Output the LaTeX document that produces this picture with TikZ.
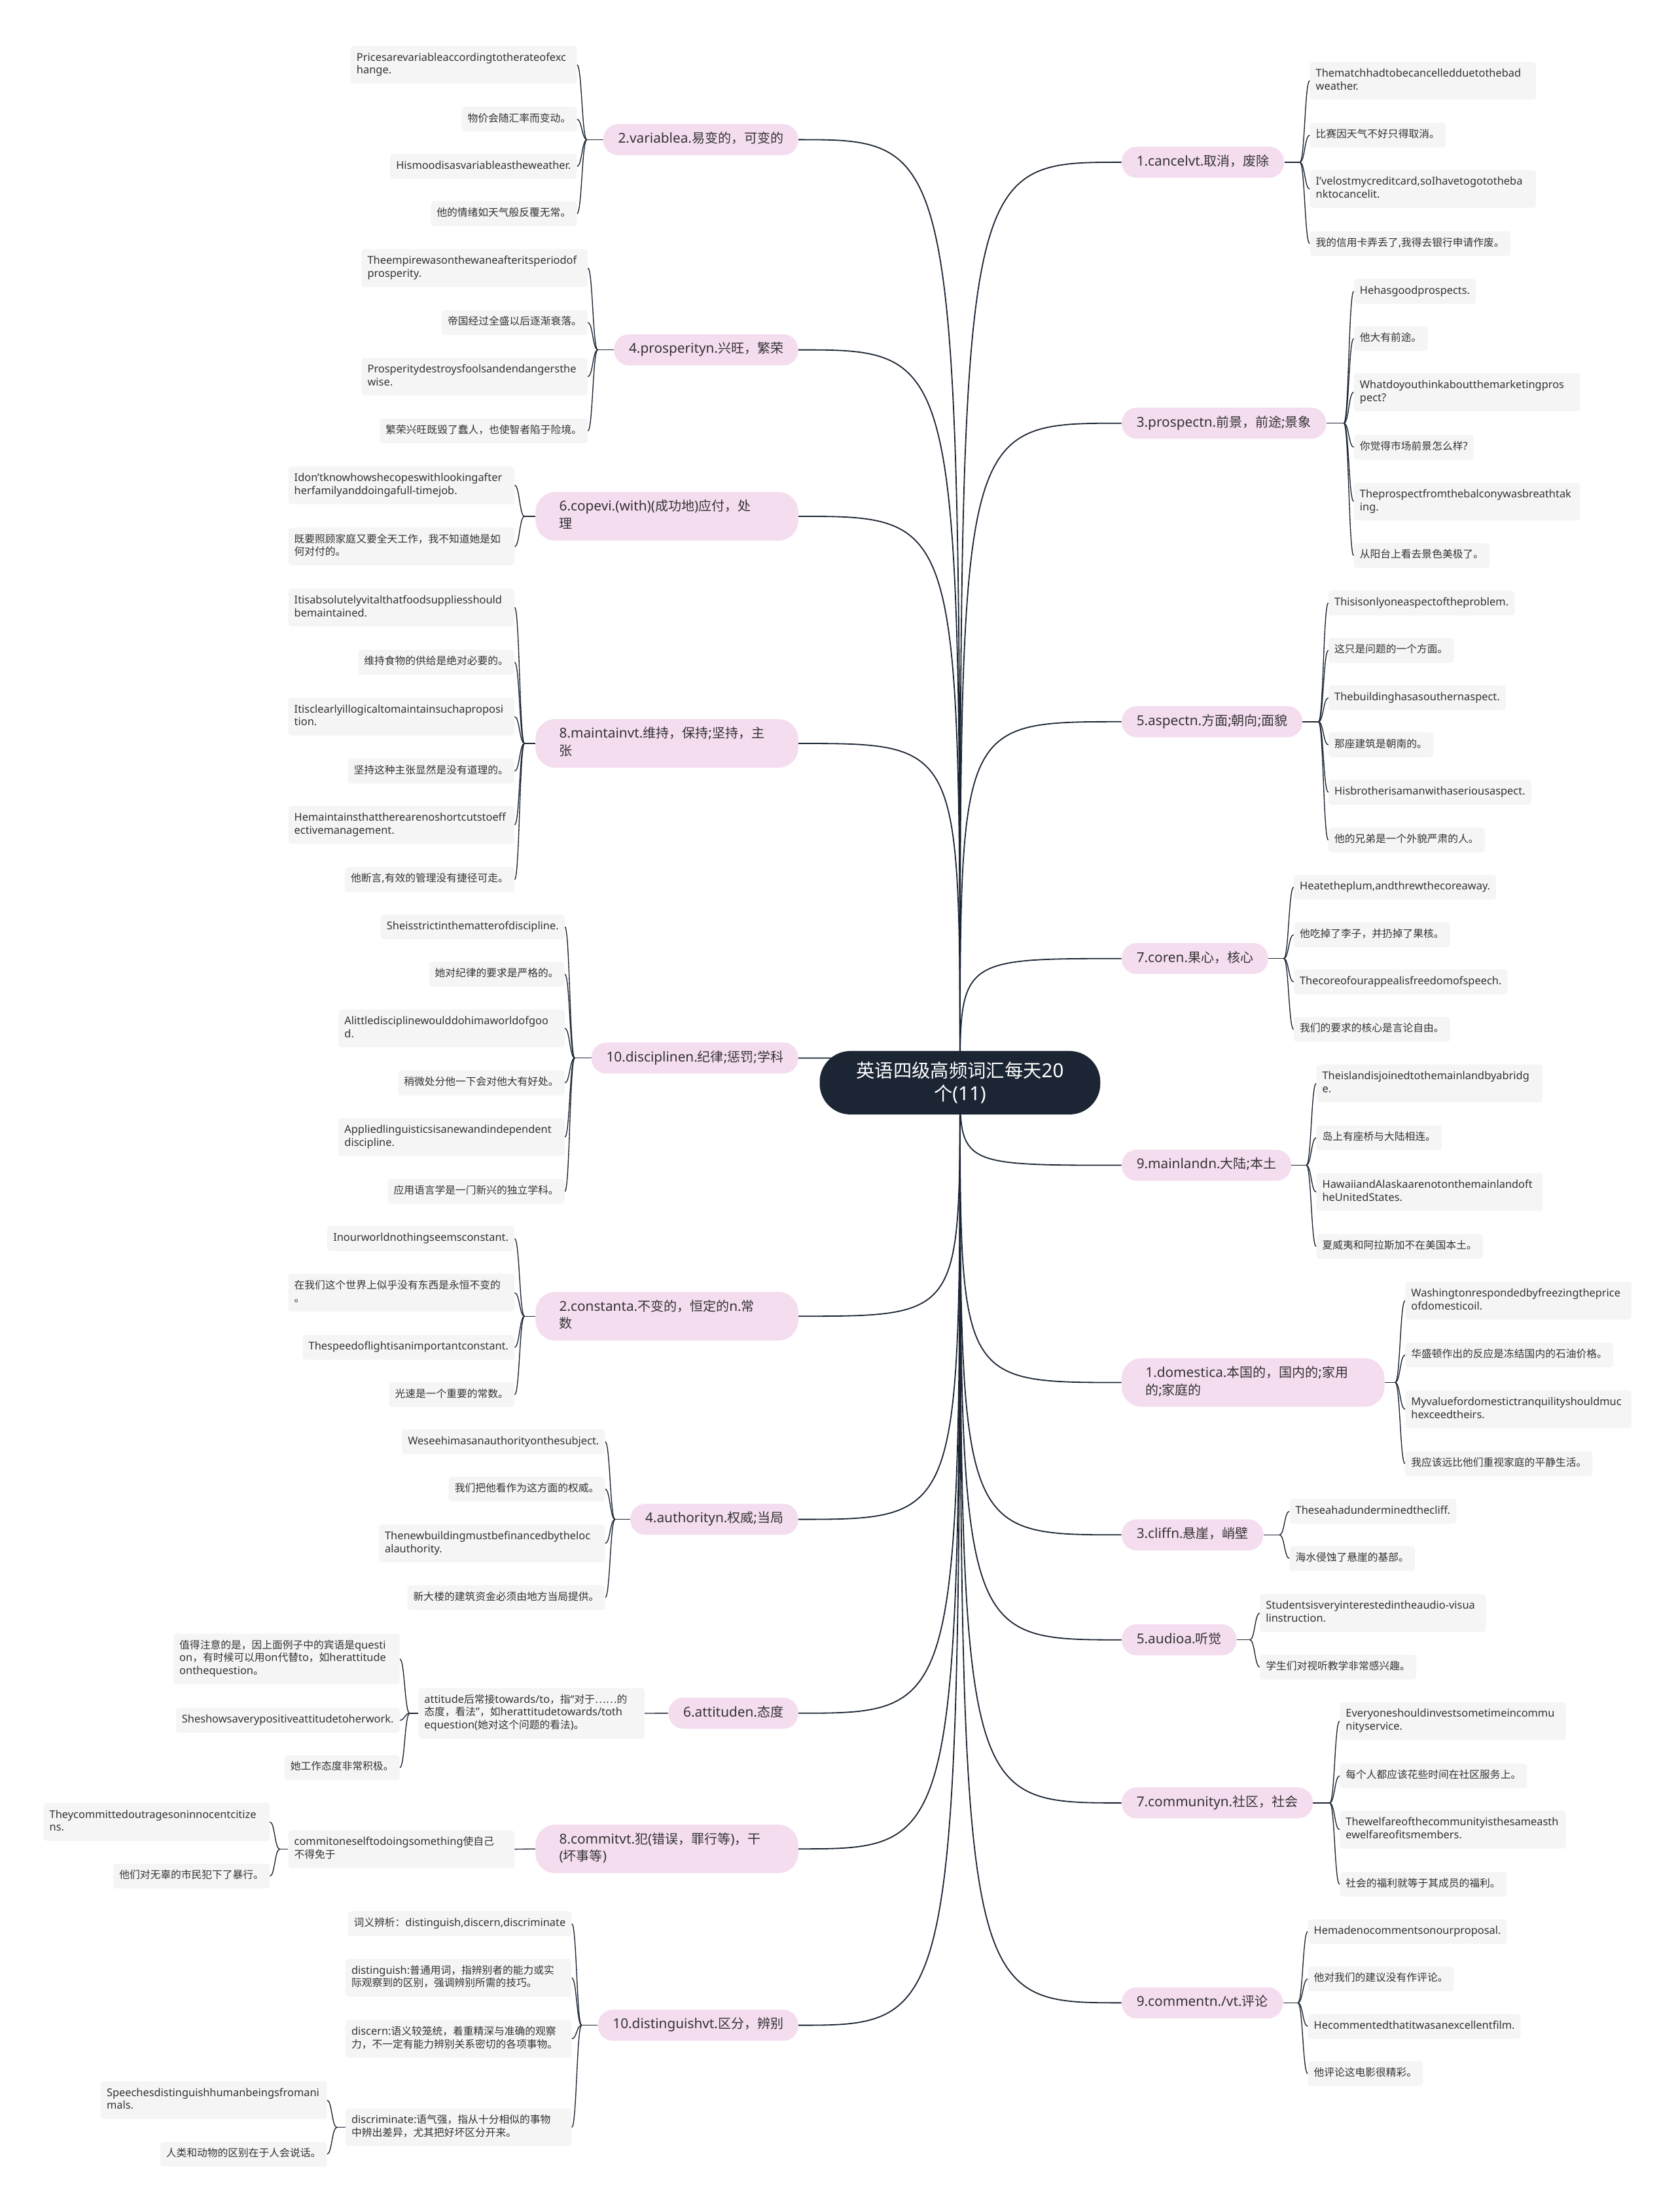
\documentclass[tikz,border=0pt]{standalone}
\usepackage{fontspec}
\setmainfont{Noto Sans}[Scale=1.04]
\newfontfamily\cjkfont{Noto Sans CJK SC}
\usetikzlibrary{calc,backgrounds}
% automatic switch to the CJK font for CJK characters
\XeTeXinterchartokenstate=1
\newXeTeXintercharclass\CJKcls
\newcount\mycnt
\def\setclsrange#1#2#3{\mycnt=#1\relax\loop\XeTeXcharclass\mycnt=#3\relax\ifnum\mycnt<#2\relax\advance\mycnt by 1\relax\repeat}
\setclsrange{"0021}{"024F}{0}
\setclsrange{"2000}{"206F}{0}
\setclsrange{"3000}{"303F}{\CJKcls}
\setclsrange{"4E00}{"9FFF}{\CJKcls}
\setclsrange{"FF00}{"FFEF}{\CJKcls}
\XeTeXcharclass"2026=\CJKcls
\XeTeXinterchartoks 0 \CJKcls = {\cjkfont}
\XeTeXinterchartoks 4095 \CJKcls = {\cjkfont}
\XeTeXinterchartoks \CJKcls 0 = {\normalfont}
\XeTeXinterchartoks \CJKcls 4095 = {\normalfont}
\hyphenpenalty=10000
\exhyphenpenalty=10000
\definecolor{navy}{RGB}{27,37,51}
\definecolor{pinkfill}{RGB}{245,221,240}
\definecolor{leafgray}{RGB}{245,245,245}
\definecolor{txt}{RGB}{51,51,51}
\tikzset{
  leaf/.style={fill=leafgray, rounded corners=3pt, inner xsep=6pt, inner ysep=6pt,
    font=\fontsize{10.4pt}{13pt}\selectfont, text=txt,
    execute at begin node=\strut, execute at end node=\strut},
  leafw/.style={leaf, text width=216pt, align=left},
  branch/.style={fill=pinkfill, rounded corners=15pt, inner xsep=15pt, inner ysep=6.8pt,
    font=\fontsize{13.2pt}{17.7pt}\selectfont, text=txt,
    execute at begin node=\strut, execute at end node=\strut},
  branchw/.style={branch, rounded corners=20pt, inner xsep=24pt, text width=217pt, align=left},
  rootbox/.style={fill=navy, rounded corners=31pt, minimum width=283pt, minimum height=64pt,
    inner ysep=8pt, align=center, text=white,
    font=\fontsize{18.7pt}{23.6pt}\selectfont},
  mainline/.style={draw=navy, line width=1.2pt},
  leafline/.style={draw=navy, line width=0.9pt},
}
\newcommand\leafR[5][leaf]{\node[#1,anchor=west] (#2) at (#3,#4) {#5};}
\newcommand\leafL[5][leaf]{\node[#1,anchor=east] (#2) at (#3,#4) {#5};}
\newcommand\brR[4][branch]{\node[#1,anchor=west] (#2) at (795,#3) {#4};}
\newcommand\brL[4][branch]{\node[#1,anchor=east] (#2) at (566,#3) {#4};}
\newcommand\mainR[1]{\draw[mainline] (root.center) .. controls (root.center |- #1.west) .. (#1.west);}
\newcommand\mainL[1]{\draw[mainline] (root.center) .. controls (root.center |- #1.east) .. (#1.east);}
\newcommand\conR[4]{\coordinate (#1J) at (#2,#3);
  \draw[leafline] (#1.east) -- (#1J);
  \foreach \ch in {#4}{\draw[leafline] (#1J) .. controls +(3.5,0) and +(-3.5,0) .. (\ch.west);}}
\newcommand\conL[4]{\coordinate (#1J) at (#2,#3);
  \draw[leafline] (#1.west) -- (#1J);
  \foreach \ch in {#4}{\draw[leafline] (#1J) .. controls +(-3.5,0) and +(3.5,0) .. (\ch.east);}}
\begin{document}
\begin{tikzpicture}[x=0.05cm,y=-0.05cm]
\useasboundingbox (0,0) rectangle (1188,1568);
% root
\node[rootbox] (root) at (680.5,767.5) {英语四级高频词汇每天20\\个(11)};
% ---------------- right side ----------------
\brR{rA}{115}{1.cancelvt.取消，废除}
\leafR[leafw]{rA1}{928.4}{57.2}{Thematchhadtobecancelledduetothebad\\weather.}
\leafR{rA2}{928.4}{95.8}{比赛因天气不好只得取消。}
\leafR[leafw]{rA3}{928.4}{134}{I’velostmycreditcard,soIhavetogototheba\\nktocancelit.}
\leafR{rA4}{928.4}{172.7}{我的信用卡弄丢了,我得去银行申请作废。}
\brR{rB}{300}{3.prospectn.前景，前途;景象}
\leafR{rB1}{959.6}{206.5}{Hehasgoodprospects.}
\leafR{rB2}{959.6}{240}{他大有前途。}
\leafR[leafw]{rB3}{959.6}{278}{Whatdoyouthinkaboutthemarketingpros\\pect?}
\leafR{rB4}{959.6}{317}{你觉得市场前景怎么样?}
\leafR[leafw]{rB5}{959.6}{355.5}{Theprospectfromthebalconywasbreathtak\\ing.}
\leafR{rB6}{959.6}{393.8}{从阳台上看去景色美极了。}
\brR{rC}{511.6}{5.aspectn.方面;朝向;面貌}
\leafR{rC1}{941.6}{427.5}{Thisisonlyoneaspectoftheproblem.}
\leafR{rC2}{941.6}{461}{这只是问题的一个方面。}
\leafR{rC3}{941.6}{494.7}{Thebuildinghasasouthernaspect.}
\leafR{rC4}{941.6}{528}{那座建筑是朝南的。}
\leafR{rC5}{941.6}{561.6}{Hisbrotherisamanwithaseriousaspect.}
\leafR{rC6}{941.6}{595.4}{他的兄弟是一个外貌严肃的人。}
\brR{rD}{679.5}{7.coren.果心，核心}
\leafR{rD1}{917}{628.9}{Heatetheplum,andthrewthecoreaway.}
\leafR{rD2}{917}{662.6}{他吃掉了李子，并扔掉了果核。}
\leafR{rD3}{917}{696}{Thecoreofourappealisfreedomofspeech.}
\leafR{rD4}{917}{729.7}{我们的要求的核心是言论自由。}
\brR{rE}{826}{9.mainlandn.大陆;本土}
\leafR[leafw]{rE1}{933}{768}{Theislandisjoinedtothemainlandbyabridg\\e.}
\leafR{rE2}{933}{806.5}{岛上有座桥与大陆相连。}
\leafR[leafw]{rE3}{933}{845}{HawaiiandAlaskaarenotonthemainlandoft\\heUnitedStates.}
\leafR{rE4}{933}{883.6}{夏威夷和阿拉斯加不在美国本土。}
\brR[branchw]{rF}{980}{1.domestica.本国的，国内的;家用\\的;家庭的}
\leafR[leafw]{rF1}{996}{922}{Washingtonrespondedbyfreezingtheprice\\ofdomesticoil.}
\leafR{rF2}{996}{960.5}{华盛顿作出的反应是冻结国内的石油价格。}
\leafR[leafw]{rF3}{996}{999}{Myvaluefordomestictranquilityshouldmuc\\hexceedtheirs.}
\leafR{rF4}{996}{1037.6}{我应该远比他们重视家庭的平静生活。}
\brR{rG}{1088}{3.cliffn.悬崖，峭壁}
\leafR{rG1}{914}{1071.3}{Theseahadunderminedthecliff.}
\leafR{rG2}{914}{1104.7}{海水侵蚀了悬崖的基部。}
\brR{rH}{1162.4}{5.audioa.听觉}
\leafR[leafw]{rH1}{893}{1143.4}{Studentsisveryinterestedintheaudio-visua\\linstruction.}
\leafR{rH2}{893}{1181.7}{学生们对视听教学非常感兴趣。}
\brR{rI}{1278}{7.communityn.社区，社会}
\leafR[leafw]{rI1}{949.6}{1220}{Everyoneshouldinvestsometimeincommu\\nityservice.}
\leafR{rI2}{949.6}{1258.8}{每个人都应该花些时间在社区服务上。}
\leafR[leafw]{rI3}{949.6}{1297}{Thewelfareofthecommunityisthesameasth\\ewelfareofitsmembers.}
\leafR{rI4}{949.6}{1335.7}{社会的福利就等于其成员的福利。}
\brR{rJ}{1419.7}{9.commentn./vt.评论}
\leafR{rJ1}{927}{1369.2}{Hemadenocommentsonourproposal.}
\leafR{rJ2}{927}{1402.8}{他对我们的建议没有作评论。}
\leafR{rJ3}{927}{1436.4}{Hecommentedthatitwasanexcellentfilm.}
\leafR{rJ4}{927}{1469.9}{他评论这电影很精彩。}
% ---------------- left side ----------------
\brL{lA}{99}{2.variablea.易变的，可变的}
\leafL[leafw]{lA1}{409}{45.9}{Pricesarevariableaccordingtotherateofexc\\hange.}
\leafL{lA2}{409}{84.5}{物价会随汇率而变动。}
\leafL{lA3}{409}{118}{Hismoodisasvariableastheweather.}
\leafL{lA4}{409}{151.5}{他的情绪如天气般反覆无常。}
\brL{lB}{248}{4.prosperityn.兴旺，繁荣}
\leafL[leafw]{lB1}{416.7}{190}{Theempirewasonthewaneafteritsperiodof\\prosperity.}
\leafL{lB2}{416.7}{228.6}{帝国经过全盛以后逐渐衰落。}
\leafL[leafw]{lB3}{416.7}{267}{Prosperitydestroysfoolsandendangersthe\\wise.}
\leafL{lB4}{416.7}{305.5}{繁荣兴旺既毁了蠢人，也使智者陷于险境。}
\brL[branchw]{lC}{366}{6.copevi.(with)(成功地)应付，处\\理}
\leafL[leafw]{lC1}{364.8}{344}{Idon’tknowhowshecopeswithlookingafter\\herfamilyanddoingafull-timejob.}
\leafL[leafw]{lC2}{364.8}{387.4}{既要照顾家庭又要全天工作，我不知道她是如\\何对付的。}
\brL[branchw]{lD}{527}{8.maintainvt.维持，保持;坚持，主\\张}
\leafL[leafw]{lD1}{364.8}{430.6}{Itisabsolutelyvitalthatfoodsuppliesshould\\bemaintained.}
\leafL{lD2}{364.8}{469.4}{维持食物的供给是绝对必要的。}
\leafL[leafw]{lD3}{364.8}{508}{Itisclearlyillogicaltomaintainsuchaproposi\\tion.}
\leafL{lD4}{364.8}{546.6}{坚持这种主张显然是没有道理的。}
\leafL[leafw]{lD5}{364.8}{584.7}{Hemaintainsthattherearenoshortcutstoeff\\ectivemanagement.}
\leafL{lD6}{364.8}{623.4}{他断言,有效的管理没有捷径可走。}
\brL{lE}{750}{10.disciplinen.纪律;惩罚;学科}
\leafL{lE1}{400.4}{657}{Sheisstrictinthematterofdiscipline.}
\leafL{lE2}{400.4}{690.6}{她对纪律的要求是严格的。}
\leafL[leafw]{lE3}{400.4}{729}{Alittledisciplinewoulddohimaworldofgoo\\d.}
\leafL{lE4}{400.4}{767.6}{稍微处分他一下会对他大有好处。}
\leafL[leafw]{lE5}{400.4}{806}{Appliedlinguisticsisanewandindependent\\discipline.}
\leafL{lE6}{400.4}{844.5}{应用语言学是一门新兴的独立学科。}
\brL[branchw]{lF}{933}{2.constanta.不变的，恒定的n.常\\数}
\leafL{lF1}{364.8}{878}{Inourworldnothingseemsconstant.}
\leafL[leafw]{lF2}{364.8}{916.4}{在我们这个世界上似乎没有东西是永恒不变的\\。}
\leafL{lF3}{364.8}{955}{Thespeedoflightisanimportantconstant.}
\leafL{lF4}{364.8}{988.6}{光速是一个重要的常数。}
\brL{lG}{1077}{4.authorityn.权威;当局}
\leafL{lG1}{429}{1022}{Weseehimasanauthorityonthesubject.}
\leafL{lG2}{429}{1055.6}{我们把他看作为这方面的权威。}
\leafL[leafw]{lG3}{429}{1094}{Thenewbuildingmustbefinancedbytheloc\\alauthority.}
\leafL{lG4}{429}{1132.5}{新大楼的建筑资金必须由地方当局提供。}
\brL{lH}{1214.4}{6.attituden.态度}
\leafL[leafw]{lHs}{457}{1214.5}{attitude后常接towards/to，指“对于……的\\态度，看法”，如herattitudetowards/toth\\equestion(她对这个问题的看法)。}
\leafL[leafw]{lH1}{283.4}{1176}{值得注意的是，因上面例子中的宾语是questi\\on，有时候可以用on代替to，如herattitude\\onthequestion。}
\leafL{lH2}{283.4}{1219.4}{Sheshowsaverypositiveattitudetoherwork.}
\leafL{lH3}{283.4}{1253}{她工作态度非常积极。}
\brL[branchw]{lI}{1310.6}{8.commitvt.犯(错误，罪行等)，干\\(坏事等)}
\leafL[leafw]{lIs}{364.8}{1310.8}{commitoneselftodoingsomething使自己\\不得免于}
\leafL[leafw]{lI1}{191.3}{1291.5}{Theycommittedoutragesoninnocentcitize\\ns.}
\leafL{lI2}{191.3}{1329.9}{他们对无辜的市民犯下了暴行。}
\brL{lJ}{1435.6}{10.distinguishvt.区分，辨别}
\leafL{lJ1}{405.3}{1363.6}{词义辨析：distinguish,discern,discriminate}
\leafL[leafw]{lJ2}{405.3}{1402}{distinguish:普通用词，指辨别者的能力或实\\际观察到的区别，强调辨别所需的技巧。}
\leafL[leafw]{lJ3}{405.3}{1445.2}{discern:语义较笼统，着重精深与准确的观察\\力，不一定有能力辨别关系密切的各项事物。}
\leafL[leafw]{lJ4}{405.3}{1508}{discriminate:语气强，指从十分相似的事物\\中辨出差异，尤其把好坏区分开来。}
\leafL[leafw]{lJ5}{231.8}{1488.7}{Speechesdistinguishhumanbeingsfromani\\mals.}
\leafL{lJ6}{231.8}{1527}{人类和动物的区别在于人会说话。}
% ---------------- connectors ----------------
\begin{scope}[on background layer]
\fill[white] (0,0) rectangle (1188,1568);
\foreach \b in {rA,rB,rC,rD,rE,rF,rG,rH,rI,rJ}{\mainR{\b}}
\foreach \b in {lA,lB,lC,lD,lE,lF,lG,lH,lI,lJ}{\mainL{\b}}
\conR{rA}{921.4}{115}{rA1,rA2,rA3,rA4}
\conR{rB}{952.6}{300}{rB1,rB2,rB3,rB4,rB5,rB6}
\conR{rC}{934.6}{511.6}{rC1,rC2,rC3,rC4,rC5,rC6}
\conR{rD}{910}{679.5}{rD1,rD2,rD3,rD4}
\conR{rE}{926}{826}{rE1,rE2,rE3,rE4}
\conR{rF}{989}{980}{rF1,rF2,rF3,rF4}
\conR{rG}{907}{1088}{rG1,rG2}
\conR{rH}{886}{1162.4}{rH1,rH2}
\conR{rI}{942.6}{1278}{rI1,rI2,rI3,rI4}
\conR{rJ}{920}{1419.7}{rJ1,rJ2,rJ3,rJ4}
\conL{lA}{416}{99}{lA1,lA2,lA3,lA4}
\conL{lB}{423.7}{248}{lB1,lB2,lB3,lB4}
\conL{lC}{371.8}{366}{lC1,lC2}
\conL{lD}{371.8}{527}{lD1,lD2,lD3,lD4,lD5,lD6}
\conL{lE}{407.4}{750}{lE1,lE2,lE3,lE4,lE5,lE6}
\conL{lF}{371.8}{933}{lF1,lF2,lF3,lF4}
\conL{lG}{436}{1077}{lG1,lG2,lG3,lG4}
\draw[leafline] (lH.west) -- (lHs.east);
\conL{lHs}{290.4}{1214.5}{lH1,lH2,lH3}
\draw[leafline] (lI.west) -- (lIs.east);
\conL{lIs}{198.3}{1310.8}{lI1,lI2}
\conL{lJ}{412.3}{1435.6}{lJ1,lJ2,lJ3,lJ4}
\conL{lJ4}{238.8}{1508}{lJ5,lJ6}
\end{scope}
\end{tikzpicture}
\end{document}
